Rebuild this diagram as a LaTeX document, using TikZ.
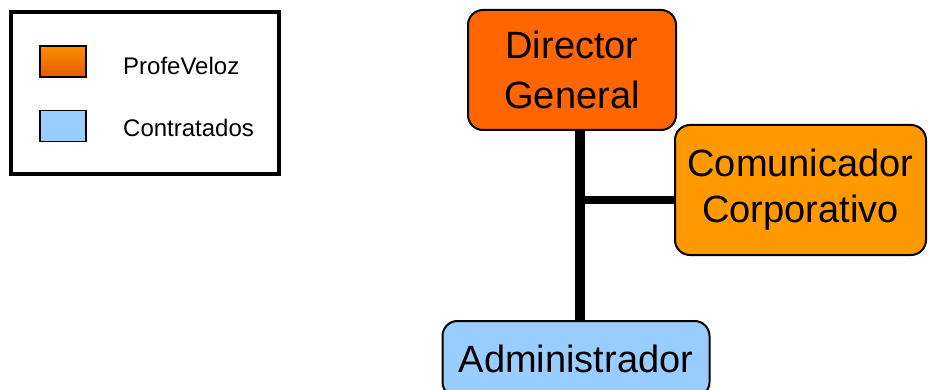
\documentclass[tikz,border=0pt]{standalone}
\usepackage{fontspec}
\setmainfont{Liberation Sans}
\usepackage{xcolor}
\usetikzlibrary{shapes,calc}
\definecolor{profeorange}{HTML}{FF6600}
\definecolor{comorange}{HTML}{FF9900}
\definecolor{contratblue}{HTML}{99CCFF}

\begin{document}
\begin{tikzpicture}[
    x=1pt, y=-1pt,
    block/.style={
      rectangle,
      draw,
      line width=2pt,
      text centered,
      align=center,
      rounded corners=15pt,
      inner sep=0pt
    },
    swatch/.style={
      rectangle,
      draw,
      line width=1.2pt,
      minimum width=46pt,
      minimum height=31pt,
      inner sep=0pt
    },
    legendtext/.style={anchor=base west, inner sep=0pt, font=\fontsize{24}{28}\selectfont},
    line/.style={draw, line width=10pt},
    branch/.style={draw, line width=8pt},
]
    \useasboundingbox (0,0) rectangle (928,390);

    % legend
    \node [draw, line width=4pt, minimum width=268pt, minimum height=162pt, inner sep=0pt] (legend) at (145,93) {};
    \node [swatch, top color=orange!90!yellow, bottom color=profeorange!90!black] (swprofe) at (63,61.5) {};
    \node [swatch, fill=contratblue] (swcontrat) at (63,126) {};
    \node [legendtext] (txtprofe) at (123,75) {ProfeVeloz};
    \node [legendtext] (txtcontrat) at (123,137) {Contratados};

    % organigrama
    \node [block, fill=profeorange, minimum width=208pt, minimum height=120pt,
           font=\fontsize{38}{50}\selectfont] (director) at (572,70) {Director\\General};
    \node [block, fill=comorange, minimum width=251pt, minimum height=130pt,
           font=\fontsize{38}{46}\selectfont] (comunicador) at (800.5,190) {Comunicador\\Corporativo};
    \node [block, fill=contratblue, minimum width=267pt, minimum height=76pt,
           font=\fontsize{38}{46}\selectfont] (admin) at (576,359) {Administrador};

    \coordinate (trunk) at (580,200);
    \path [line] (director.south -| trunk) -- (admin.north -| trunk);
    \path [branch] (trunk) -- (trunk -| comunicador.west);

\end{tikzpicture}
\end{document}
